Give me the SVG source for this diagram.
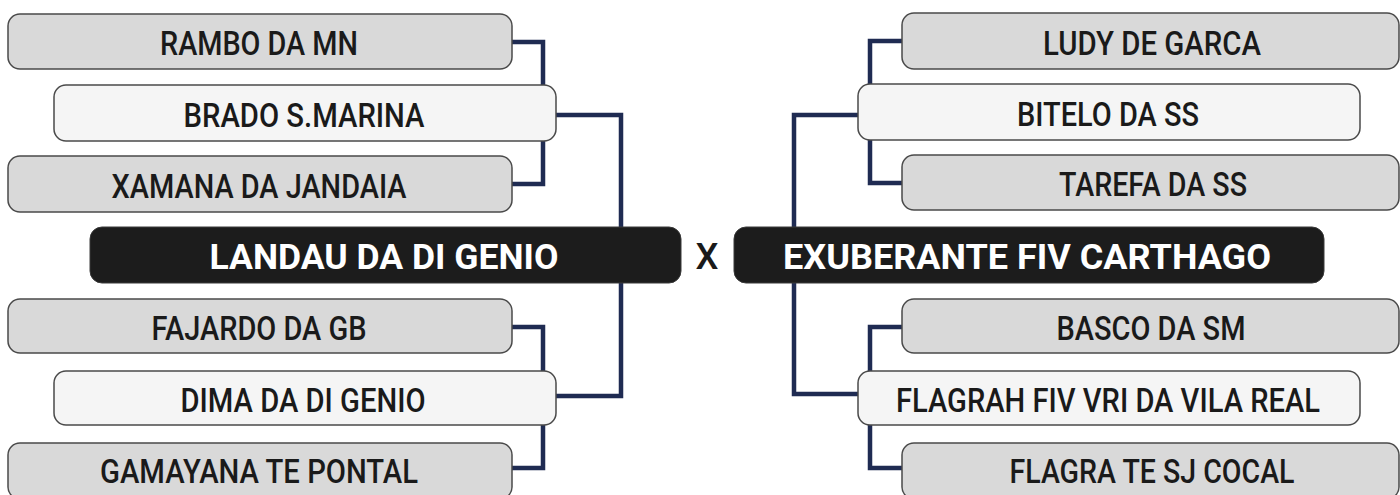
<svg xmlns="http://www.w3.org/2000/svg" width="1400" height="495" viewBox="0 0 1400 495">
<style>
.bg{fill:#ffffff}
.g{fill:#d9d9d9;stroke:#4a4a4a;stroke-width:1.5}
.l{fill:#f5f5f5;stroke:#4a4a4a;stroke-width:1.5}
.m{fill:#1c1c1c;stroke:#3a3a3a;stroke-width:1}
.c{fill:none;stroke:#1f2b52;stroke-width:4.5;stroke-linejoin:miter}
.t{font-family:Roboto,"Liberation Sans",sans-serif;font-weight:500;font-size:33px;fill:#1a1a1a;text-anchor:middle}
.tm{font-family:Roboto,"Liberation Sans",sans-serif;font-weight:700;font-size:35.5px;fill:#ffffff;text-anchor:middle}
.x{font-family:Roboto,"Liberation Sans",sans-serif;font-weight:500;font-size:36px;fill:#1a1a1a;text-anchor:middle}
</style>
<rect class="bg" x="0" y="0" width="1400" height="495"/>
<g id="connectors">
<path class="c" d="M512,42 H543 V184 H512"/>
<path class="c" d="M556,115 H621 V396 H556"/>
<path class="c" d="M512,327 H543 V468 H512"/>
<path class="c" d="M902,41 H870 V183 H902"/>
<path class="c" d="M858,115 H794 V394 H858"/>
<path class="c" d="M902,327 H870 V468 H902"/>
</g>
<g id="rambo"><rect class="g" x="8" y="14" width="504" height="55" rx="12"/><text class="t" x="259" y="55" textLength="198" lengthAdjust="spacingAndGlyphs">RAMBO DA MN</text></g>
<g id="brado"><rect class="l" x="54" y="85" width="502" height="56" rx="12"/><text class="t" x="304" y="127" textLength="241" lengthAdjust="spacingAndGlyphs">BRADO S.MARINA</text></g>
<g id="xamana"><rect class="g" x="8" y="156" width="504" height="56" rx="12"/><text class="t" x="259" y="197.5" textLength="295" lengthAdjust="spacingAndGlyphs">XAMANA DA JANDAIA</text></g>
<g id="landau"><rect class="m" x="90" y="227" width="591" height="56" rx="12"/><text class="tm" x="384" y="268.5" textLength="349" lengthAdjust="spacingAndGlyphs">LANDAU DA DI GENIO</text></g>
<g id="vs"><text class="x" x="707" y="268.5" textLength="23" lengthAdjust="spacingAndGlyphs">X</text></g>
<g id="fajardo"><rect class="g" x="8" y="299" width="504" height="54" rx="12"/><text class="t" x="259" y="339.5" textLength="215" lengthAdjust="spacingAndGlyphs">FAJARDO DA GB</text></g>
<g id="dima"><rect class="l" x="54" y="371" width="502" height="54" rx="12"/><text class="t" x="303" y="411.5" textLength="245" lengthAdjust="spacingAndGlyphs">DIMA DA DI GENIO</text></g>
<g id="gamayana"><rect class="g" x="8" y="443" width="504" height="56" rx="12"/><text class="t" x="259" y="483" textLength="318" lengthAdjust="spacingAndGlyphs">GAMAYANA TE PONTAL</text></g>
<g id="ludy"><rect class="g" x="902" y="13" width="497" height="56" rx="12"/><text class="t" x="1152" y="54.5" textLength="218" lengthAdjust="spacingAndGlyphs">LUDY DE GARCA</text></g>
<g id="bitelo"><rect class="l" x="858" y="84" width="502" height="56" rx="12"/><text class="t" x="1108" y="125.5" textLength="182" lengthAdjust="spacingAndGlyphs">BITELO DA SS</text></g>
<g id="tarefa"><rect class="g" x="902" y="155" width="497" height="55" rx="12"/><text class="t" x="1153" y="196" textLength="188" lengthAdjust="spacingAndGlyphs">TAREFA DA SS</text></g>
<g id="exuberante"><rect class="m" x="734" y="227" width="590" height="56" rx="12"/><text class="tm" x="1027" y="268.5" textLength="488" lengthAdjust="spacingAndGlyphs">EXUBERANTE FIV CARTHAGO</text></g>
<g id="basco"><rect class="g" x="902" y="299" width="497" height="54" rx="12"/><text class="t" x="1151" y="339.5" textLength="189" lengthAdjust="spacingAndGlyphs">BASCO DA SM</text></g>
<g id="flagrah"><rect class="l" x="858" y="371" width="502" height="54" rx="12"/><text class="t" x="1108" y="411.5" textLength="424" lengthAdjust="spacingAndGlyphs">FLAGRAH FIV VRI DA VILA REAL</text></g>
<g id="flagra"><rect class="g" x="902" y="443" width="497" height="56" rx="12"/><text class="t" x="1152" y="483" textLength="285" lengthAdjust="spacingAndGlyphs">FLAGRA TE SJ COCAL</text></g>
</svg>
